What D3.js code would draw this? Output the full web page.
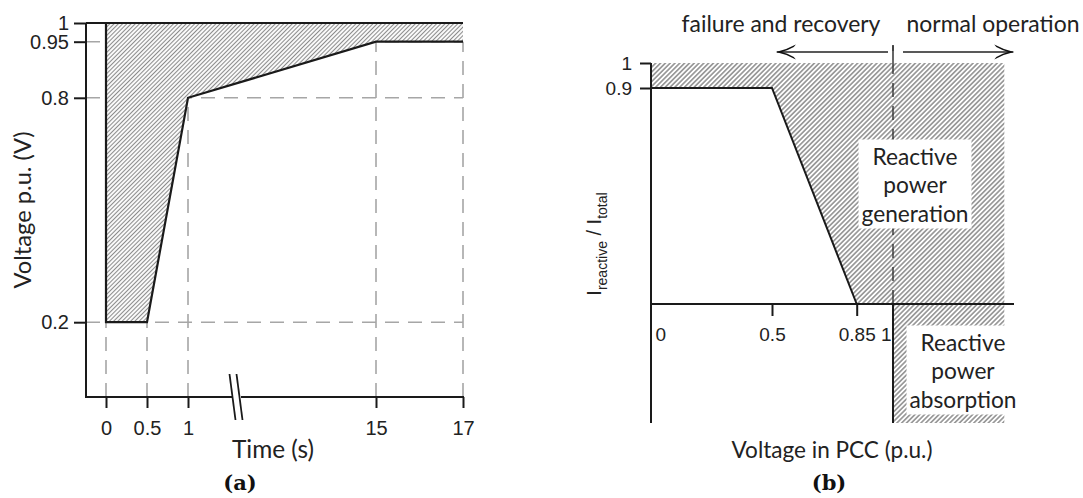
<!DOCTYPE html>
<html>
<head>
<meta charset="utf-8">
<script src="https://cdn.jsdelivr.net/npm/d3@7"></script>
<style>
  body { margin: 0; background: #fff; }
  svg { display: block; font-family: Lato, "Open Sans", sans-serif; }
</style>
</head>
<body>
<svg id="chart" width="1083" height="498"></svg>
<script>
// ---- panel (a): voltage profile vs time
const timeTicks = [0, 0.5, 1, 15, 17];
const voltTicks = [0.2, 0.8, 0.95, 1];
const voltProfile = [[0, 1], [0, 0.2], [0.5, 0.2], [1, 0.8], [15, 0.95], [17, 0.95]];
const voltGuides = [0.95, 0.8, 0.2];

// ---- panel (b): reactive current vs PCC voltage
const pccTicks = [0, 0.5, 0.85, 1];
const currTicks = [0.9, 1];
const currCurve = [[0, 0.9], [0.5, 0.9], [0.85, 0], [1.46, 0]];
const absorbSpan = [[1, 0], [1.46, 0]];
const absorbBottom = -0.55;

const INK = "#1a1a1a";
const GUIDE = "#a6a6a6";

const svg = d3.select("#chart");
const defs = svg.append("defs");

// diagonal hatching
function hatch(id, gap, color, w) {
    const p = defs.append("pattern")
        .attr("id", id)
        .attr("patternUnits", "userSpaceOnUse")
        .attr("width", gap).attr("height", gap)
        .attr("patternTransform", "rotate(45)");
    p.append("rect").attr("width", gap).attr("height", gap).attr("fill", "#fff");
    p.append("line")
        .attr("x1", gap / 2).attr("x2", gap / 2)
        .attr("y1", 0).attr("y2", gap)
        .attr("stroke", color).attr("stroke-width", w);
}
hatch("hatchA", 3, "#8c8c8c", 1.1);
hatch("hatchB", 3.4, "#7a7a7a", 1.3);

defs.append("marker")
    .attr("id", "head")
    .attr("markerUnits", "userSpaceOnUse")
    .attr("viewBox", "0 -8 20 16")
    .attr("refX", 19).attr("refY", 0)
    .attr("markerWidth", 20).attr("markerHeight", 16)
    .attr("orient", "auto")
    .append("path")
    .attr("d", "M0,-7.5 Q10,-2 20,0 Q10,2 0,7.5 L2,5 Q9,1.2 14,0 Q9,-1.2 2,-5 Z")
    .attr("fill", "#111");

// shrink/grow a text so its width matches the picture
function fit(sel, w) {
    const fs = parseFloat(sel.attr("font-size"));
    const len = sel.node().getComputedTextLength();
    sel.attr("font-size", fs * w / len);
}

function styleAxis(g, size) {
    g.select(".domain").remove();
    g.selectAll(".tick line").attr("stroke", INK).attr("stroke-width", 2);
    g.selectAll(".tick text").attr("fill", "#222").attr("font-size", size);
}

// =================== panel (a) ===================
const xA = d3.scaleLinear().domain([0, 1, 15, 17]).range([106, 188, 376, 463]);
const yA = d3.scaleLinear().domain([0, 1]).range([397, 23]);
const axA = 86;
const ga = svg.append("g");

// dashed guides
ga.selectAll(".gh").data(voltGuides).join("line")
    .attr("x1", axA).attr("x2", xA(17))
    .attr("y1", d => yA(d)).attr("y2", d => yA(d))
    .attr("stroke", GUIDE).attr("stroke-width", 1.6).attr("stroke-dasharray", "14 9");

const lowAt = t => d3.min(voltProfile.filter(p => p[0] === t), p => p[1]);
ga.selectAll(".gv").data(timeTicks).join("line")
    .attr("x1", d => xA(d)).attr("x2", d => xA(d))
    .attr("y1", yA(0)).attr("y2", d => yA(lowAt(d)))
    .attr("stroke", GUIDE).attr("stroke-width", 1.6).attr("stroke-dasharray", "14 9");

// hatched tolerance band
ga.append("path")
    .datum(voltProfile)
    .attr("d", d3.area().x(d => xA(d[0])).y0(yA(1)).y1(d => yA(d[1])))
    .attr("fill", "url(#hatchA)");

// upper limit and profile
ga.append("line")
    .attr("x1", axA).attr("x2", xA(17)).attr("y1", yA(1)).attr("y2", yA(1))
    .attr("stroke", INK).attr("stroke-width", 2.2);
ga.append("path")
    .datum(voltProfile)
    .attr("d", d3.line().x(d => xA(d[0])).y(d => yA(d[1])))
    .attr("fill", "none").attr("stroke", INK).attr("stroke-width", 2.2);

// axes
ga.append("line").attr("x1", axA).attr("x2", axA).attr("y1", yA(1)).attr("y2", yA(0) + 1)
    .attr("stroke", INK).attr("stroke-width", 2);
ga.append("line").attr("x1", axA).attr("x2", xA(17) + 1).attr("y1", yA(0)).attr("y2", yA(0))
    .attr("stroke", INK).attr("stroke-width", 2);

ga.append("g")
    .attr("transform", `translate(0,${yA(0)})`)
    .call(d3.axisBottom(xA).tickValues(timeTicks).tickSize(11).tickPadding(13).tickFormat(d3.format("")))
    .call(g => styleAxis(g, 20));
ga.append("g")
    .attr("transform", `translate(${axA},0)`)
    .call(d3.axisLeft(yA).tickValues(voltTicks).tickSize(12).tickPadding(5).tickFormat(d3.format("")))
    .call(g => styleAxis(g, 20));

// axis break
const bx = xA(1) + 48;
ga.append("rect").attr("x", bx - 4).attr("y", yA(0) - 2).attr("width", 9).attr("height", 4).attr("fill", "#fff");
[-3.5, 3.5].forEach(o => {
    ga.append("line")
        .attr("x1", bx + o - 3).attr("y1", yA(0) - 23)
        .attr("x2", bx + o + 3).attr("y2", yA(0) + 23)
        .attr("stroke", INK).attr("stroke-width", 1.8);
});

// titles
const tA = ga.append("text").attr("x", 273).attr("y", 458).attr("text-anchor", "middle")
    .attr("font-size", 21).attr("fill", "#222").text("Time (s)");
fit(tA, 82);
const vA = ga.append("text").attr("transform", "translate(31,210) rotate(-90)").attr("text-anchor", "middle")
    .attr("font-size", 21).attr("fill", "#222").text("Voltage p.u. (V)");
fit(vA, 157);
ga.append("text").attr("x", 240).attr("y", 490).attr("text-anchor", "middle")
    .attr("font-family", "DejaVu Serif").attr("font-weight", "bold").attr("font-size", 21)
    .attr("fill", "#111").text("(a)");

// =================== panel (b) ===================
const xB = d3.scaleLinear().domain([0, 1.5]).range([651, 1014]);
const yB = d3.scaleLinear().domain([absorbBottom, 0, 0.9, 1]).range([423, 304, 88, 63]);
const gb = svg.append("g");

// hatched regions
gb.append("path")
    .datum(currCurve)
    .attr("d", d3.area().x(d => xB(d[0])).y0(yB(1)).y1(d => yB(d[1])))
    .attr("fill", "url(#hatchB)");
gb.append("path")
    .datum(absorbSpan)
    .attr("d", d3.area().x(d => xB(d[0])).y0(yB(absorbBottom)).y1(d => yB(d[1])))
    .attr("fill", "url(#hatchB)");

// dashed boundary at V = 1
gb.append("line")
    .attr("x1", xB(1)).attr("x2", xB(1)).attr("y1", yB(0)).attr("y2", yB(1.07))
    .attr("stroke", "#333").attr("stroke-width", 1.4).attr("stroke-dasharray", "14 9");

// region labels on white boxes
function regionLabel(lines, cx, cy) {
    const g = gb.append("g");
    const box = g.append("rect").attr("fill", "#fff");
    const t = g.append("text").attr("text-anchor", "middle").attr("font-size", 22).attr("fill", "#222");
    lines.forEach((s, i) => {
        t.append("tspan").attr("x", cx).attr("y", cy + (i - 1) * 28.5 + 8).text(s);
    });
    const widest = t.selectAll("tspan").nodes().reduce((a, n) => Math.max(a, n.getComputedTextLength()), 0);
    t.attr("font-size", 22 * 107 / widest);
    const b = t.node().getBBox();
    box.attr("x", b.x - 3).attr("y", b.y - 3).attr("width", b.width + 6).attr("height", b.height + 5);
}
regionLabel(["Reactive", "power", "generation"], 915, 185);
regionLabel(["Reactive", "power", "absorption"], 963, 371);

// curve and axes
gb.append("path")
    .datum(currCurve.slice(0, 3))
    .attr("d", d3.line().x(d => xB(d[0])).y(d => yB(d[1])))
    .attr("fill", "none").attr("stroke", INK).attr("stroke-width", 2);
gb.append("line").attr("x1", xB(0)).attr("x2", xB(0)).attr("y1", yB(1)).attr("y2", yB(absorbBottom))
    .attr("stroke", INK).attr("stroke-width", 2);
gb.append("line").attr("x1", xB(0)).attr("x2", xB(1.5)).attr("y1", yB(0)).attr("y2", yB(0))
    .attr("stroke", INK).attr("stroke-width", 2);
gb.append("line").attr("x1", xB(1)).attr("x2", xB(1)).attr("y1", yB(0)).attr("y2", yB(absorbBottom))
    .attr("stroke", INK).attr("stroke-width", 2);

gb.append("g")
    .attr("transform", `translate(0,${yB(0)})`)
    .call(d3.axisBottom(xB).tickValues(pccTicks).tickSize(12).tickPadding(12).tickFormat(d3.format("")))
    .call(g => styleAxis(g, 19))
    .call(g => {
        g.selectAll(".tick").filter(d => d === 0 || d === 1).select("line").remove();
        g.selectAll(".tick text").filter(d => d === 0).attr("text-anchor", "start").attr("dx", 4);
        g.selectAll(".tick text").filter(d => d === 1).attr("text-anchor", "end").attr("dx", -2);
    });
gb.append("g")
    .attr("transform", `translate(${xB(0)},0)`)
    .call(d3.axisLeft(yB).tickValues(currTicks).tickSize(11).tickPadding(8).tickFormat(d3.format("")))
    .call(g => styleAxis(g, 19))
    .call(g => g.selectAll(".tick text").attr("font-family", "Liberation Sans, Arial, sans-serif"));

// y title with subscripts
const yt = gb.append("text")
    .attr("transform", "translate(601,244) rotate(-90)")
    .attr("text-anchor", "middle")
    .attr("font-family", "Liberation Sans, Arial, sans-serif")
    .attr("font-size", 20).attr("fill", "#222");
yt.append("tspan").text("I");
yt.append("tspan").attr("font-size", 14).attr("dy", 6).text("reactive");
yt.append("tspan").attr("dy", -6).text(" / I");
yt.append("tspan").attr("font-size", 14).attr("dy", 6).text("total");

// x title and panel letter
const xt = gb.append("text").attr("x", 832).attr("y", 458).attr("text-anchor", "middle")
    .attr("font-size", 21).attr("fill", "#222").text("Voltage in PCC (p.u.)");
fit(xt, 201);
gb.append("text").attr("x", 829).attr("y", 490).attr("text-anchor", "middle")
    .attr("font-family", "DejaVu Serif").attr("font-weight", "bold").attr("font-size", 21)
    .attr("fill", "#111").text("(b)");

// operating-mode annotation
const ay = 52;
gb.append("line").attr("x1", xB(1) - 5).attr("x2", xB(0.52)).attr("y1", ay).attr("y2", ay)
    .attr("stroke", "#222").attr("stroke-width", 1.6).attr("marker-end", "url(#head)");
gb.append("line").attr("x1", xB(1) + 10).attr("x2", xB(1.497)).attr("y1", ay).attr("y2", ay)
    .attr("stroke", "#222").attr("stroke-width", 1.6).attr("marker-end", "url(#head)");
gb.append("line").attr("x1", xB(1)).attr("x2", xB(1)).attr("y1", ay - 7).attr("y2", ay + 8)
    .attr("stroke", "#333").attr("stroke-width", 1.5);
const f1 = gb.append("text").attr("x", 781).attr("y", 32).attr("text-anchor", "middle")
    .attr("font-size", 21).attr("fill", "#222").text("failure and recovery");
fit(f1, 199);
const f2 = gb.append("text").attr("x", 993).attr("y", 32).attr("text-anchor", "middle")
    .attr("font-size", 21).attr("fill", "#222").text("normal operation");
fit(f2, 173);
</script>
</body>
</html>
